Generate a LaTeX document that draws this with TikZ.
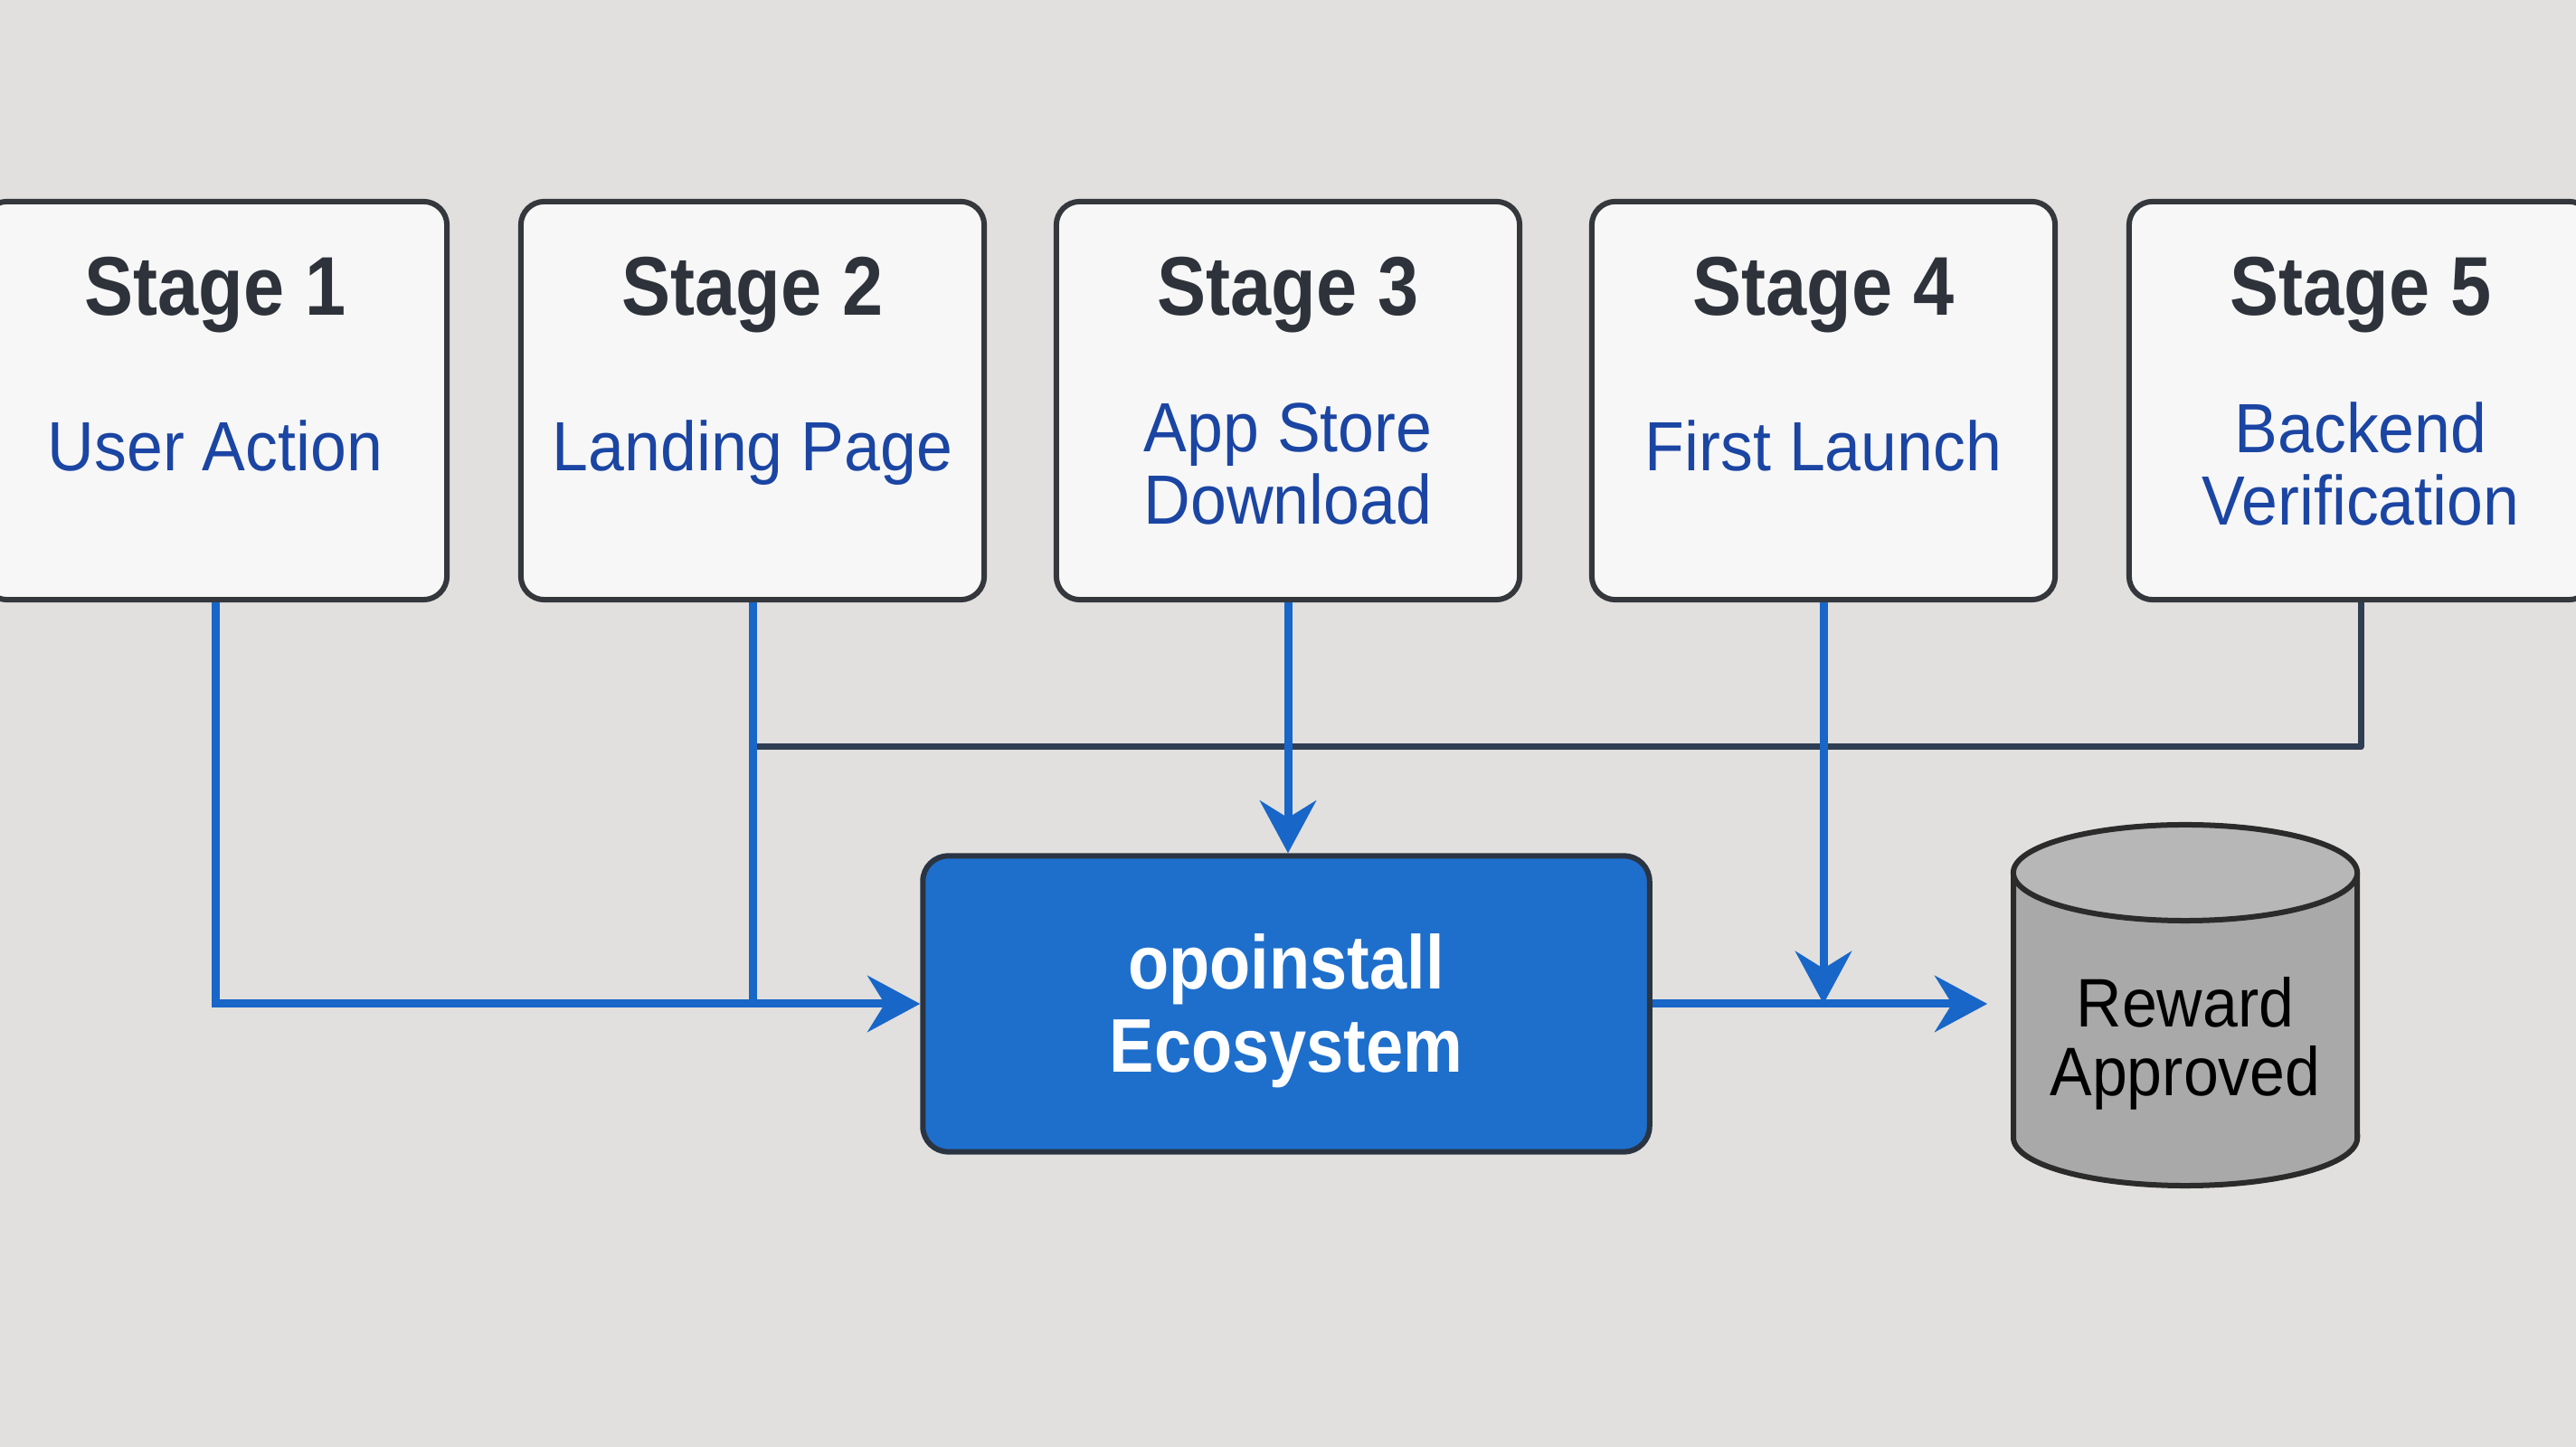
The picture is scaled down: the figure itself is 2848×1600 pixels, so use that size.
\documentclass[tikz,border=0pt]{standalone}
\usepackage{fontspec}
\setmainfont{Liberation Sans}
\newfontfamily\titlef{Liberation Sans}[FakeStretch=0.88]
\newfontfamily\subf{Liberation Sans}[FakeStretch=0.93]
\newfontfamily\cylf{Liberation Sans}[FakeStretch=0.92]
\usetikzlibrary{arrows.meta}
\definecolor{bgc}{HTML}{E1E0DE}
\definecolor{boxfill}{HTML}{F7F7F7}
\definecolor{boxborder}{HTML}{34373C}
\definecolor{titlec}{HTML}{2E323A}
\definecolor{subc}{HTML}{1B45A3}
\definecolor{lineblue}{HTML}{1866C8}
\definecolor{darkline}{HTML}{2F3E52}
\definecolor{ecofill}{HTML}{1E6FCC}
\definecolor{ecoborder}{HTML}{2A3442}
\definecolor{cylbody}{HTML}{A9A9A9}
\definecolor{cyltop}{HTML}{B7B7B7}
\definecolor{cylborder}{HTML}{2B2B2B}
\begin{document}
\begin{tikzpicture}[x=0.01cm,y=0.01cm,
  stagebox/.style={draw=boxborder, line width=0.06cm, fill=boxfill, rounded corners=0.26cm,
    minimum width=5.12cm, minimum height=4.4cm, inner sep=0pt},
  titletext/.style={anchor=base, inner sep=0pt, text=titlec, font=\titlef\bfseries\fontsize{26.2pt}{28pt}\selectfont},
  subtext/.style={inner sep=0pt, text=subc, align=center, font=\subf\fontsize{21.9pt}{22.8pt}\selectfont},
  ecobox/.style={draw=ecoborder, line width=0.06cm, fill=ecofill, rounded corners=0.28cm,
    minimum width=8.03cm, minimum height=3.27cm, inner sep=0pt},
  ecotext/.style={inner sep=0pt, text=white, align=center, font=\titlef\bfseries\fontsize{23.9pt}{26.2pt}\selectfont},
  cyltext/.style={inner sep=0pt, text=black, align=center, font=\cylf\fontsize{21.6pt}{21.8pt}\selectfont},
  bluecon/.style={draw=lineblue, line width=0.09cm},
  bluearrow/.style={bluecon, -{Stealth[length=0.58cm, width=0.62cm, inset=0.19cm]}},
  darkcon/.style={draw=darkline, line width=0.07cm, line join=round}
]
\useasboundingbox (0,0) rectangle (2848,1600);
\fill[bgc] (0,0) rectangle (2848,1600);

% stage boxes
\node[stagebox] (s1) at (238,1157) {};
\node[stagebox] (s2) at (832,1157) {};
\node[stagebox] (s3) at (1424,1157) {};
\node[stagebox] (s4) at (2016,1157) {};
\node[stagebox] (s5) at (2610,1157) {};

\node[titletext] (t1) at (238,1251) {Stage 1};
\node[titletext] (t2) at (832,1251) {Stage 2};
\node[titletext] (t3) at (1424,1251) {Stage 3};
\node[titletext] (t4) at (2016,1251) {Stage 4};
\node[titletext] (t5) at (2610,1251) {Stage 5};

\node[subtext, anchor=base] (u1) at (238,1079) {User Action};
\node[subtext, anchor=base] (u2) at (832,1079) {Landing Page};
\node[subtext] (u3) at (1424,1087) {App Store\\Download};
\node[subtext, anchor=base] (u4) at (2016,1079) {First Launch};
\node[subtext] (u5) at (2610,1087) {Backend\\Verification};

% main box
\node[ecobox] (eco) at (1422,490) {};
\node[ecotext] (ecolabel) at (1422,482) {opoinstall\\Ecosystem};

% cylinder
\node[minimum width=3.8cm, minimum height=3.99cm, inner sep=0pt] (cylnode) at (2416,490) {};
\fill[cylbody] (2226,635) -- (2226,342) arc[start angle=180, end angle=360, x radius=1.9cm, y radius=0.53cm] -- (2606,635) -- cycle;
\draw[cylborder, line width=0.06cm] (2226,635) -- (2226,342) arc[start angle=180, end angle=360, x radius=1.9cm, y radius=0.53cm] -- (2606,635);
\draw[cylborder, line width=0.06cm, fill=cyltop] (2416,635) ellipse[x radius=1.9cm, y radius=0.53cm];
\node[cyltext] (cyl) at (2416,446) {Reward\\Approved};

% connectors
\coordinate (bus) at (832,774);
\draw[darkcon] (s5.south) |- (bus);
\draw[bluecon] (s2.south) -- (s2.south |- eco.west);
\draw[bluearrow] (s1.south) |- (eco.west);
\draw[bluearrow] (s3.south) -- (s3.south |- eco.north);
\draw[bluearrow] (eco.east) -- ([xshift=-0.28cm]cylnode.west);
\draw[bluearrow] (s4.south) -- (s4.south |- eco.east);
\end{tikzpicture}
\end{document}
